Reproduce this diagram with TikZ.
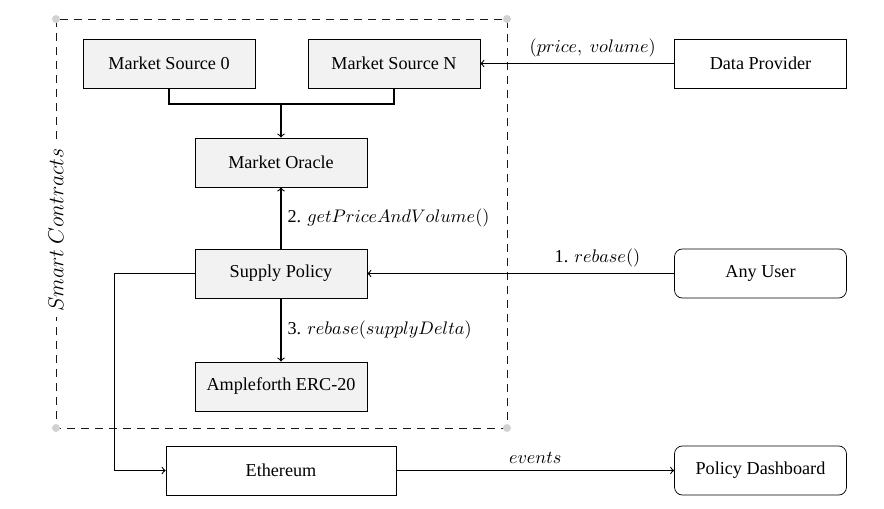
\documentclass[tikz,border=0pt]{standalone}
\usepackage{fontspec}
\setmainfont{Liberation Serif}
\usetikzlibrary{positioning}

\begin{document}
\begin{tikzpicture}[x=0.55pt, y=-0.55pt,
    contract/.style={draw, fill=gray!10, minimum width=94.6pt, minimum height=27pt},
    outside/.style={draw, minimum width=94.6pt, minimum height=27pt},
    actor/.style={outside, rounded corners=4.4pt},
    corner/.style={circle, fill=gray!35, inner sep=0pt, minimum size=4.4pt},
    flow/.style={->, semithick}]
    \useasboundingbox (0,0) rectangle (884,508);

    % smart contract frame
    \coordinate (frameTL) at (56,19);
    \coordinate (frameBR) at (507,428);
    \draw[gray!20!black, dash pattern=on 4.4pt off 3.3pt] (frameTL) rectangle (frameBR);
    \node[corner] at (56,19) {};
    \node[corner] at (507,19) {};
    \node[corner] at (56,428) {};
    \node[corner] at (507,428) {};
    \node[fill=white, rotate=90, inner sep=3pt, font=\large] (frameLabel) at (56,230) {$Smart\ Contracts$};

    % boxes
    \node[contract] (src0) at (169,63.5) {Market Source 0};
    \node[contract] (srcN) at (394,63.5) {Market Source N};
    \node[outside] (provider) at (760.5,63.5) {Data Provider};
    \node[contract] (oracle) at (281,162.5) {Market Oracle};
    \node[contract] (policy) at (281,273.5) {Supply Policy};
    \node[contract] (token) at (281,386.5) {Ampleforth ERC-20};
    \node[actor] (user) at (760.5,273.5) {Any User};
    \node[outside, minimum width=126.5pt] (eth) at (281,470.5) {Ethereum};
    \node[actor] (dashboard) at (760.5,470.5) {Policy Dashboard};

    % connectors
    \coordinate (join) at (281,104);
    \draw[semithick] (src0.south) |- (join) -| (srcN.south);
    \draw[flow] (join) -- (oracle.north);
    \draw[flow] (provider) -- node[above, pos=0.42] {$(price,\ volume)$} (srcN);
    \draw[flow] (user) -- node[above, pos=0.25] {1. $rebase()$} (policy);
    \draw[flow] (policy) -- node[right] {2. $getPriceAndVolume()$} (oracle);
    \draw[flow] (policy) -- node[right] {3. $rebase(supplyDelta)$} (token);
    \draw[flow] (policy.west) -- ++(-80,0) |- (eth.west);
    \draw[flow] (eth) -- node[above] {$events$} (dashboard);
\end{tikzpicture}
\end{document}
